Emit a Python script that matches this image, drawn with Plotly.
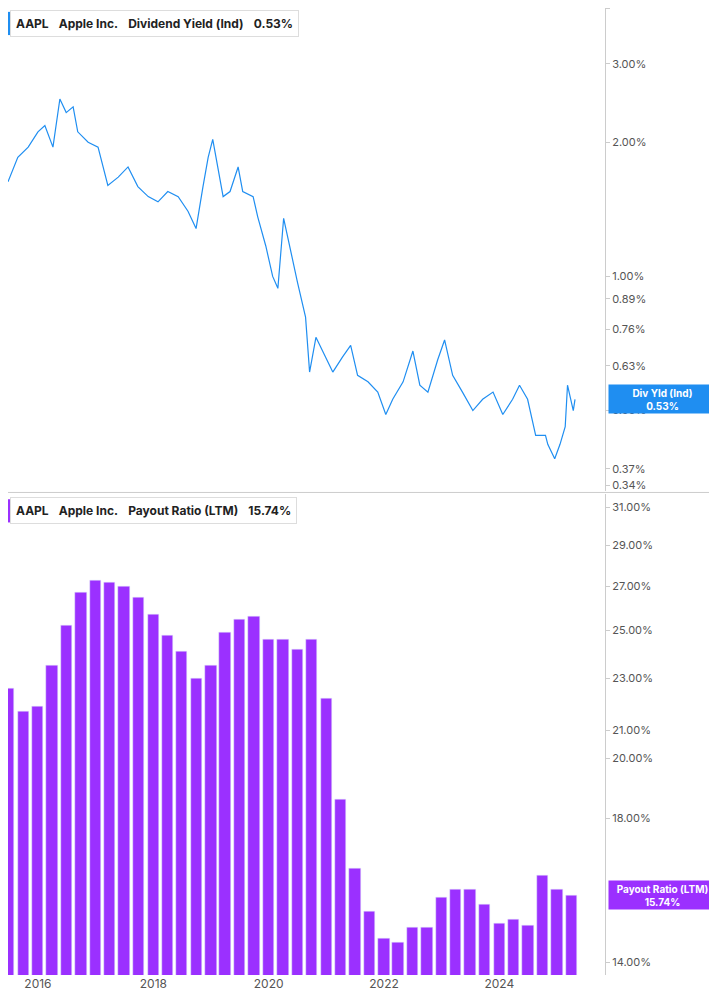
import numpy as np
import pandas as pd
import plotly.graph_objects as go
from plotly.subplots import make_subplots

# dividend yield (%), decimal year
yield_years = [2015.48, 2015.65, 2015.83, 2016.0, 2016.12, 2016.26, 2016.38, 2016.49, 2016.61, 2016.69,
               2016.87, 2017.04, 2017.21, 2017.39, 2017.56, 2017.73, 2017.91, 2018.08, 2018.25, 2018.43,
               2018.60, 2018.74, 2018.86, 2018.95, 2019.03, 2019.12, 2019.21, 2019.33, 2019.47, 2019.55,
               2019.73, 2019.81, 2019.95, 2020.07, 2020.16, 2020.26, 2020.36, 2020.50, 2020.64, 2020.71,
               2020.82, 2020.94, 2021.11, 2021.28, 2021.42, 2021.54, 2021.72, 2021.89, 2022.03, 2022.15,
               2022.33, 2022.50, 2022.62, 2022.76, 2022.93, 2023.05, 2023.19, 2023.36, 2023.54, 2023.71,
               2023.89, 2024.06, 2024.23, 2024.35, 2024.49, 2024.63, 2024.80, 2024.84, 2024.96, 2025.05,
               2025.14, 2025.18, 2025.28, 2025.31]
yield_vals = [1.63, 1.85, 1.95, 2.11, 2.18, 1.95, 2.50, 2.33, 2.40, 2.11,
              2.00, 1.95, 1.60, 1.67, 1.76, 1.59, 1.51, 1.47, 1.55, 1.51,
              1.40, 1.28, 1.59, 1.85, 2.03, 1.76, 1.51, 1.55, 1.76, 1.55,
              1.51, 1.36, 1.17, 1.00, 0.94, 1.35, 1.17, 0.97, 0.81, 0.61,
              0.73, 0.68, 0.61, 0.66, 0.70, 0.60, 0.58, 0.55, 0.49, 0.53,
              0.58, 0.68, 0.57, 0.55, 0.65, 0.72, 0.60, 0.55, 0.50, 0.53,
              0.55, 0.49, 0.53, 0.57, 0.53, 0.44, 0.44, 0.42, 0.39, 0.42,
              0.46, 0.57, 0.50, 0.53]

payout_dates = ["2015-06-30", "2015-09-30", "2015-12-31", "2016-03-31", "2016-06-30", "2016-09-30",
                "2016-12-31", "2017-03-31", "2017-06-30", "2017-09-30", "2017-12-31", "2018-03-31",
                "2018-06-30", "2018-09-30", "2018-12-31", "2019-03-31", "2019-06-30", "2019-09-30",
                "2019-12-31", "2020-03-31", "2020-06-30", "2020-09-30", "2020-12-31", "2021-03-31",
                "2021-06-30", "2021-09-30", "2021-12-31", "2022-03-31", "2022-06-30", "2022-09-30",
                "2022-12-31", "2023-03-31", "2023-06-30", "2023-09-30", "2023-12-31", "2024-03-31",
                "2024-06-30", "2024-09-30", "2024-12-31", "2025-03-31"]
payout_vals = [22.6, 21.7, 21.9, 23.5, 25.2, 26.7, 27.3, 27.2, 27.0, 26.5,
               25.7, 24.8, 24.1, 23.0, 23.5, 24.9, 25.5, 25.6, 24.6, 24.6,
               24.2, 24.6, 22.2, 18.6, 16.5, 15.3, 14.6, 14.5, 14.9, 14.9,
               15.7, 15.9, 15.9, 15.5, 15.0, 15.1, 14.95, 16.3, 15.9, 15.74]

top_ticks = [4.0, 3.0, 2.0, 1.0, 0.89, 0.76, 0.63, 0.50, 0.37, 0.34]
bot_ticks = [31, 29, 27, 25, 23, 21, 20, 18, 14]

blue = "#1f8ef1"
purple = "#9b30ff"
gray = "#555"


def to_date(y):
    yr = int(y)
    start = pd.Timestamp(year=yr, month=1, day=1)
    return start + pd.Timedelta(days=(y - yr) * 365.25)


yield_dates = [to_date(y) for y in yield_years]

fig = make_subplots(rows=2, cols=1, shared_xaxes=True, vertical_spacing=0.003)
fig.add_trace(go.Scatter(x=yield_dates, y=yield_vals, mode="lines",
                         line=dict(color=blue, width=1.2)), row=1, col=1)
fig.add_trace(go.Bar(x=payout_dates, y=payout_vals, marker_color=purple,
                     width=1000 * 3600 * 24 * 72), row=2, col=1)

xr = [to_date(2015.48), to_date(2025.83)]
fig.update_xaxes(range=xr, showgrid=False, zeroline=False, showline=False,
                 tickfont=dict(size=12, color=gray, family="Inter"), dtick="M24",
                 tickformat="%Y", ticks="")
fig.update_xaxes(showticklabels=False, row=1, col=1)

fig.update_yaxes(type="log", side="right", showgrid=False, zeroline=False, showline=True,
                 linecolor="#ccc", ticks="outside", ticklen=4, tickcolor="#ccc",
                 tickfont=dict(size=11, color=gray, family="Inter"))
fig.update_yaxes(range=[np.log10(0.33), np.log10(4.0)], tickvals=top_ticks,
                 ticktext=["%.2f%%" % t for t in top_ticks], row=1, col=1)
fig.update_yaxes(range=[np.log10(13.7), np.log10(31.7)], tickvals=bot_ticks,
                 ticktext=["%.2f%%" % t for t in bot_ticks], row=2, col=1)

fig.update_layout(
    width=709, height=997, margin=dict(l=0, r=112, t=0, b=30),
    plot_bgcolor="white", paper_bgcolor="white", showlegend=False, bargap=0,
    font=dict(family="Inter"),
)
fig.layout.yaxis.domain = [0.5005, 1]
fig.layout.yaxis2.domain = [0, 0.497]

fig.add_shape(type="line", xref="paper", yref="paper", x0=0, x1=1.2, y0=0.499, y1=0.499,
              line=dict(color="#ccc", width=1))

fig.add_annotation(xref="paper", yref="paper", x=0.003, y=0.998, xanchor="left", yanchor="top",
                   text="<b>AAPL</b>   <b>Apple Inc.</b>   <b>Dividend Yield (Ind)</b>   <b>0.53%</b>",
                   showarrow=False, font=dict(size=12, color="#222"), bgcolor="white",
                   bordercolor="#ddd", borderwidth=1, borderpad=5)
fig.add_shape(type="rect", xref="paper", yref="paper", x0=0.0, x1=0.006, y0=0.972, y1=0.996,
              fillcolor=blue, line_width=0)
fig.add_annotation(xref="paper", yref="paper", x=0.003, y=0.494, xanchor="left", yanchor="top",
                   text="<b>AAPL</b>   <b>Apple Inc.</b>   <b>Payout Ratio (LTM)</b>   <b>15.74%</b>",
                   showarrow=False, font=dict(size=12, color="#222"), bgcolor="white",
                   bordercolor="#ddd", borderwidth=1, borderpad=5)
fig.add_shape(type="rect", xref="paper", yref="paper", x0=0.0, x1=0.006, y0=0.468, y1=0.492,
              fillcolor=purple, line_width=0)

fig.add_annotation(xref="paper", yref="y", x=1.005, y=np.log10(yield_vals[-1]), xanchor="left",
                   text="<b>Div Yld (Ind)<br>0.53%</b>", showarrow=False, align="center",
                   font=dict(size=10, color="white"), bgcolor=blue, width=105, height=26)
fig.add_annotation(xref="paper", yref="y2", x=1.005, y=np.log10(payout_vals[-1]), xanchor="left",
                   text="<b>Payout Ratio (LTM)<br>15.74%</b>", showarrow=False, align="center",
                   font=dict(size=10, color="white"), bgcolor=purple, width=105, height=26)

fig.write_html("out.html")
